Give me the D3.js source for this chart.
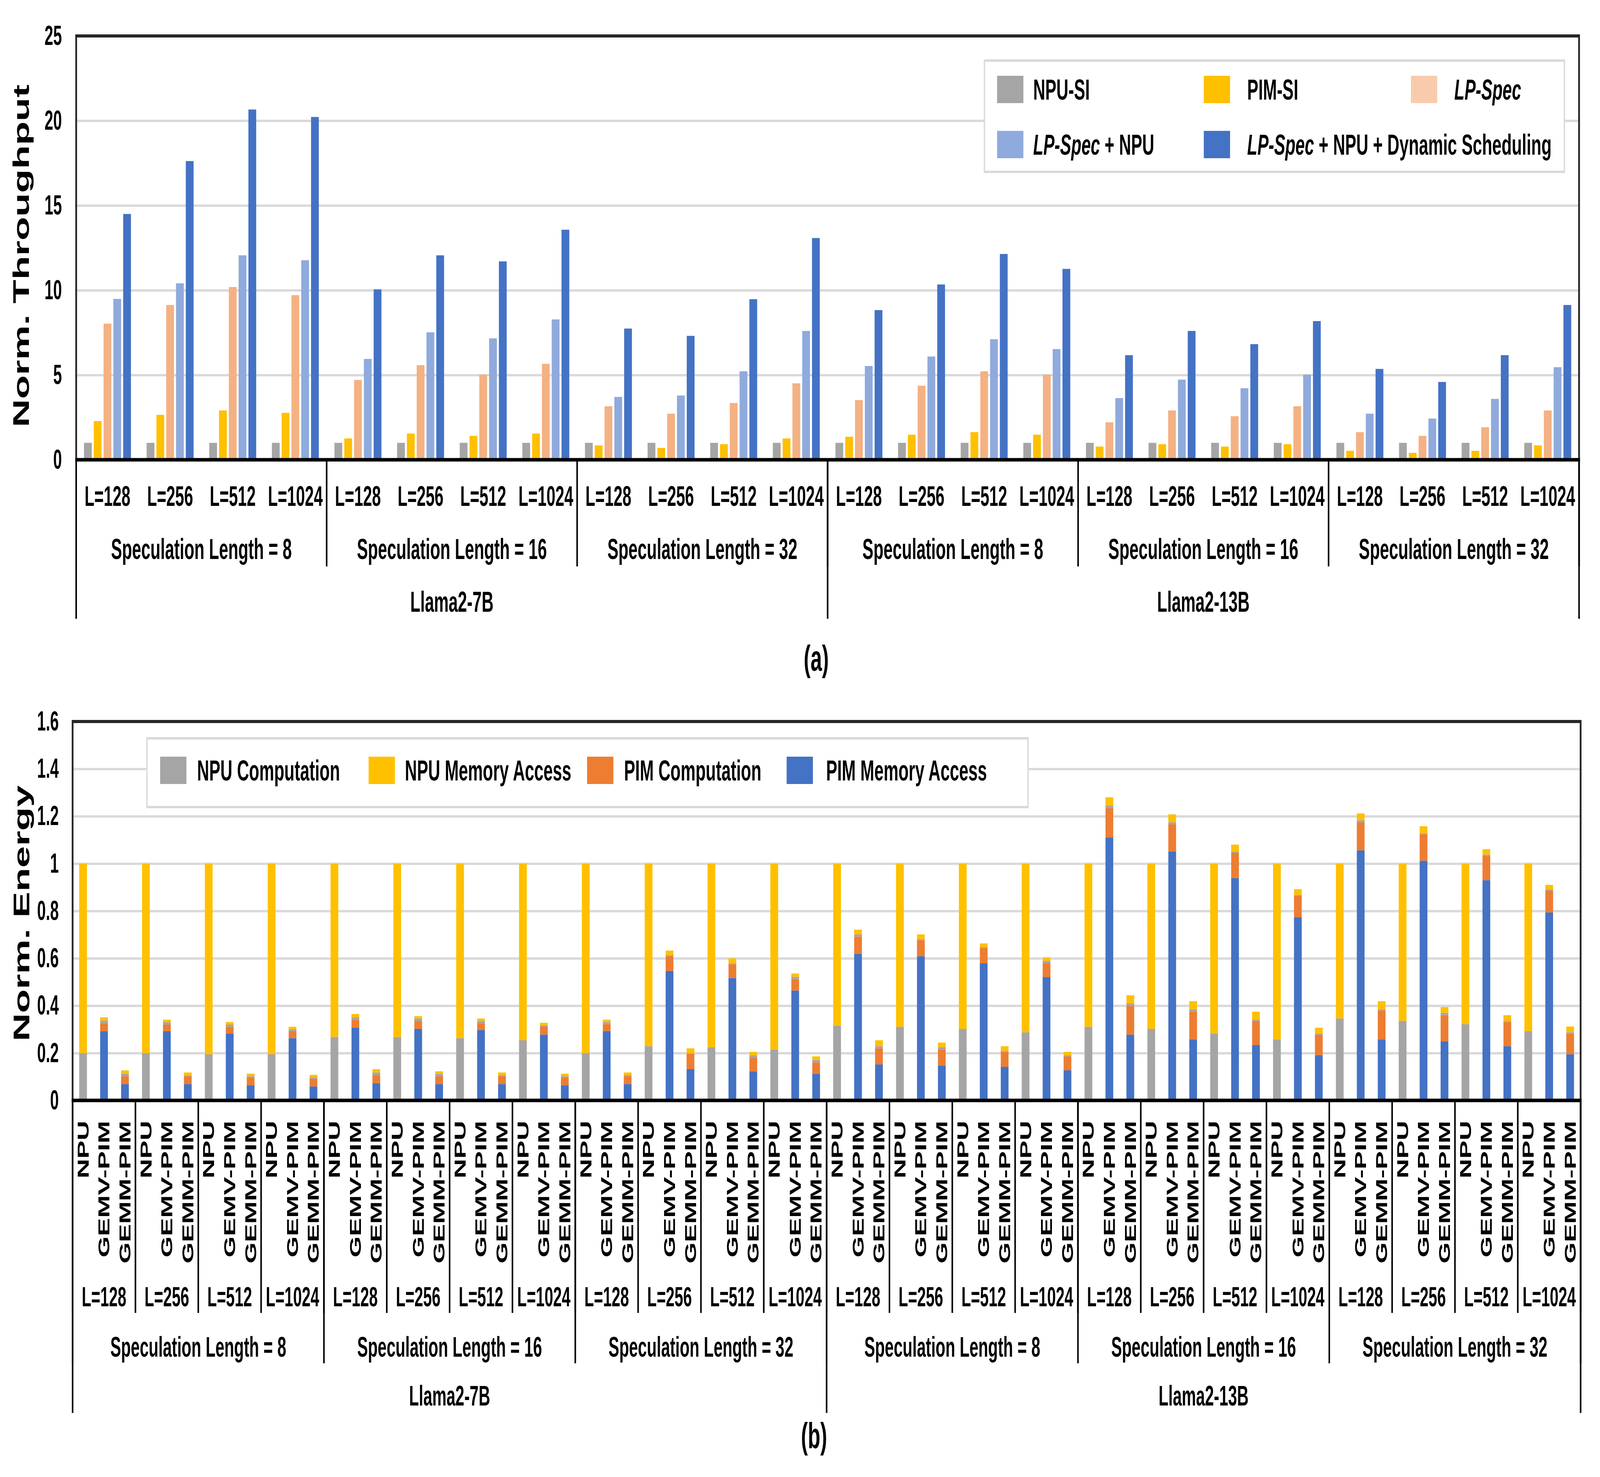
<!DOCTYPE html>
<html>
<head>
<meta charset="utf-8">
<script src="https://cdn.jsdelivr.net/npm/d3@7"></script>
<style>
	html, body { margin: 0; padding: 0; background: #fff; overflow: hidden; }
	#fig { display: block; width: 100vw; height: 100vh; }
	text { font-family: "Liberation Sans", Arial, sans-serif; font-weight: bold; fill: #000; }
</style>
</head>
<body>
<svg id="fig" viewBox="0 0 7184 3781" preserveAspectRatio="none"></svg>
<script>

// categories
var models = ["Llama2-7B", "Llama2-13B"]
var specLens = ["Speculation Length = 8", "Speculation Length = 16", "Speculation Length = 32"]
var seqLens = ["L=128", "L=256", "L=512", "L=1024"]
var designs = ["NPU", "GEMV-PIM", "GEMM-PIM"]

// (a) normalized throughput, one value per (model, spec length, L)
var npuSI     = [1,1,1,1, 1,1,1,1, 1,1,1,1, 1,1,1,1, 1,1,1,1, 1,1,1,1]
var pimSI     = [2.28,2.65,2.91,2.77, 1.26,1.55,1.41,1.55, 0.85,0.70,0.92,1.26, 1.36,1.48,1.63,1.48, 0.78,0.92,0.78,0.92, 0.53,0.41,0.53,0.85]
var lpSpec    = [8.03,9.13,10.19,9.71, 4.71,5.58,5.02,5.66, 3.16,2.72,3.35,4.51, 3.52,4.37,5.22,5.02, 2.21,2.91,2.57,3.16, 1.63,1.41,1.92,2.91]
var lpSpecNpu = [9.49,10.41,12.06,11.77, 5.95,7.52,7.16,8.28, 3.71,3.79,5.22,7.60, 5.53,6.09,7.11,6.53, 3.64,4.73,4.22,5.02, 2.72,2.43,3.59,5.46]
var lpSpecDyn = [14.5,17.62,20.66,20.22, 10.05,12.06,11.70,13.57, 7.74,7.31,9.47,13.08, 8.83,10.34,12.14,11.26, 6.17,7.60,6.82,8.18, 5.36,4.59,6.17,9.13]
var throughputTicks = [0, 5, 10, 15, 20, 25]

// (b) normalized energy, per config: NPU, GEMV-PIM, GEMM-PIM
var pimMemAccess = [
	0,.292,.069, 0,.292,.069, 0,.283,.064, 0,.263,.059,
	0,.307,.073, 0,.302,.069, 0,.297,.069, 0,.278,.064,
	0,.292,.069, 0,.546,.132, 0,.517,.123, 0,.464,.113,
	0,.619,.152, 0,.609,.147, 0,.579,.142, 0,.521,.127,
	0,1.110,.278, 0,1.051,.258, 0,.939,.234, 0,.774,.191,
	0,1.056,.258, 0,1.012,.249, 0,.930,.229, 0,.794,.195]
var pimComputation = [
	0,.034,.033, 0,.028,.033, 0,.028,.033, 0,.029,.033,
	0,.034,.034, 0,.034,.033, 0,.029,.033, 0,.034,.033,
	0,.030,.033, 0,.063,.065, 0,.058,.058, 0,.048,.048,
	0,.073,.068, 0,.068,.068, 0,.064,.063, 0,.058,.059,
	0,.125,.121, 0,.116,.117, 0,.107,.102, 0,.089,.087,
	0,.118,.122, 0,.112,.111, 0,.103,.102, 0,.092,.088]
var npuComputation = [
	.200,.011,.011, .200,.010,.004, .195,.009,.005, .195,.009,.005,
	.268,.010,.011, .268,.010,.011, .263,.010,.005, .254,.005,.005,
	.200,.009,.005, .229,.005,.003, .225,.005,.010, .215,.010,.010,
	.316,.009,.009, .311,.005,.010, .302,.005,.005, .288,.010,.005,
	.311,.010,.010, .302,.008,.010, .283,.005,.005, .258,.005,.005,
	.346,.009,.005, .336,.005,.010, .322,.005,.005, .292,.005,.005]
var npuMemAccess = [
	.800,.014,.014, .800,.011,.012, .805,.011,.011, .805,.010,.011,
	.732,.014,.014, .732,.010,.010, .737,.010,.011, .746,.011,.011,
	.800,.010,.011, .771,.019,.020, .775,.020,.014, .785,.014,.015,
	.684,.020,.025, .689,.019,.019, .698,.015,.019, .712,.015,.014,
	.689,.035,.035, .698,.033,.034, .717,.029,.034, .742,.024,.024,
	.654,.029,.034, .664,.029,.024, .678,.023,.024, .708,.019,.024]
var energyTicks = [0, 0.2, 0.4, 0.6, 0.8, 1, 1.2, 1.4, 1.6]


var svg = d3.select("#fig")

// config list (model x spec length x L)
var configs = []
models.forEach(function(m){
	specLens.forEach(function(s){
		seqLens.forEach(function(l){
			configs.push({model: m, spec: s, len: l, key: m + "|" + s + "|" + l})
		})
	})
})

function categoryAxis(g, x, yZero, levels, x0, x1) {
	// levels: [{every, bottom, labelY, label}]
	g.append("line").attr("x1", x0 - 4).attr("x2", x1 + 4).attr("y1", yZero).attr("y2", yZero)
		.attr("stroke", "#000").attr("stroke-width", 9)

	var step = x.step()
	levels.forEach(function(lv){
		for (var i = 0; i <= configs.length; i += lv.every) {
			var bx = x0 + i * step
			if (lv.line) g.append("line").attr("x1", bx).attr("x2", bx).attr("y1", yZero).attr("y2", lv.bottom)
				.attr("stroke", "#000").attr("stroke-width", 7)
			if (i < configs.length) g.append("text")
				.attr("x", bx + step * lv.every / 2)
				.attr("y", lv.labelY)
				.attr("text-anchor", "middle")
				.style("font-size", lv.size + "px")
				.text(lv.label(configs[i]))
		}
	})
}

function legend(g, box, items) {
	g.append("rect").attr("x", box[0]).attr("y", box[1]).attr("width", box[2]).attr("height", box[3])
		.attr("fill", "#fff").attr("stroke", "#d9d9d9").attr("stroke-width", 6)
	items.forEach(function(it){
		g.append("rect").attr("x", it.sx).attr("y", it.cy - 35).attr("width", 118).attr("height", 70).attr("fill", it.color)
		var t = g.append("text").attr("x", it.tx).attr("y", it.cy).attr("dominant-baseline", "central").style("font-size", "75px")
		it.parts.forEach(function(p){
			t.append("tspan").style("font-style", p[1] ? "italic" : "normal").text(p[0])
		})
	})
}


// ---------- (a) throughput ----------
var A = {x0: 342, x1: 7090, y0: 92, yZero: 1177}
var gA = svg.append("g")

var xA = d3.scaleBand().domain(configs.map(function(d){ return d.key })).range([A.x0, A.x1])
var seriesA = [
	{name: "NPU-SI", values: npuSI, color: "#a5a5a5"},
	{name: "PIM-SI", values: pimSI, color: "#ffc000"},
	{name: "LP-Spec", values: lpSpec, color: "#f4b183"},
	{name: "LP-Spec + NPU", values: lpSpecNpu, color: "#8faadc"},
	{name: "LP-Spec + NPU + Dynamic Scheduling", values: lpSpecDyn, color: "#4472c4"}
]
var xAin = d3.scaleBand().domain(seriesA.map(function(s){ return s.name }))
	.range([0, xA.bandwidth()]).paddingInner(0.205).paddingOuter(0.8)
var yA = d3.scaleLinear().domain([0, 25]).range([A.yZero, A.y0])

gA.append("g").attr("transform", "translate(" + A.x0 + ",0)")
	.call(d3.axisLeft(yA).tickValues([5, 10, 15, 20]).tickSize(-(A.x1 - A.x0)).tickFormat(""))
	.call(function(g){ g.select(".domain").remove() })
	.selectAll("line").attr("stroke", "#d9d9d9").attr("stroke-width", 6)

gA.append("g").attr("transform", "translate(" + A.x0 + ",0)")
	.call(d3.axisLeft(yA).tickValues(throughputTicks).tickSize(0).tickPadding(64))
	.call(function(g){ g.select(".domain").remove() })
	.selectAll("text").style("font-size", "70px").style("font-family", "Liberation Sans, Arial, sans-serif")

legend(gA, [4420, 155, 2604, 285], [
	{sx: 4477, tx: 4639, cy: 229, color: "#a5a5a5", parts: [["NPU-SI", 0]]},
	{sx: 5405, tx: 5600, cy: 229, color: "#ffc000", parts: [["PIM-SI", 0]]},
	{sx: 6335, tx: 6530, cy: 229, color: "#f8cbad", parts: [["LP-Spec", 1]]},
	{sx: 4477, tx: 4639, cy: 370, color: "#8faadc", parts: [["LP-Spec", 1], [" + NPU", 0]]},
	{sx: 5405, tx: 5600, cy: 370, color: "#4472c4", parts: [["LP-Spec", 1], [" + NPU + Dynamic Scheduling", 0]]}
])

seriesA.forEach(function(s){
	gA.append("g").selectAll("rect")
		.data(configs)
		.enter().append("rect")
		.attr("x", function(d){ return xA(d.key) + xAin(s.name) })
		.attr("width", xAin.bandwidth())
		.attr("y", function(d, i){ return yA(s.values[i]) })
		.attr("height", function(d, i){ return A.yZero - yA(s.values[i]) })
		.attr("fill", s.color)
})

gA.append("path")
	.attr("d", "M" + A.x0 + "," + A.yZero + "V" + A.y0 + "H" + A.x1 + "V" + A.yZero)
	.attr("fill", "none").attr("stroke", "#262626").attr("stroke-width", 8)

categoryAxis(gA, xA, A.yZero, [
	{every: 1, line: false, labelY: 1295, size: 72, label: function(c){ return c.len }},
	{every: 4, line: true, bottom: 1450, labelY: 1431, size: 74, label: function(c){ return c.spec }},
	{every: 12, line: true, bottom: 1584, labelY: 1566, size: 74, label: function(c){ return c.model }}
], A.x0, A.x1)

gA.append("text").attr("transform", "translate(94,655) rotate(-90)")
	.attr("text-anchor", "middle").attr("dominant-baseline", "central")
	.style("font-size", "100px").text("Norm. Throughput")

svg.append("text").attr("x", 3665).attr("y", 1717).attr("text-anchor", "middle")
	.style("font-size", "92px").text("(a)")


// ---------- (b) energy ----------
var B = {x0: 326, x1: 7097, y0: 1847, yZero: 2817}
var gB = svg.append("g")

var bars = []
configs.forEach(function(c, ci){
	designs.forEach(function(dsg, di){
		var i = ci * 3 + di
		bars.push({key: c.key + "|" + dsg, design: dsg,
			pimMem: pimMemAccess[i], pimComp: pimComputation[i],
			npuComp: npuComputation[i], npuMem: npuMemAccess[i]})
	})
})

var xB = d3.scaleBand().domain(bars.map(function(d){ return d.key })).range([B.x0, B.x1])
	.paddingInner(0.63).paddingOuter(0.315)
var xBcfg = d3.scaleBand().domain(configs.map(function(d){ return d.key })).range([B.x0, B.x1])
var yB = d3.scaleLinear().domain([0, 1.6]).range([B.yZero, B.y0])

var keysB = ["pimMem", "pimComp", "npuComp", "npuMem"]
var colorB = {pimMem: "#4472c4", pimComp: "#ed7d31", npuComp: "#a5a5a5", npuMem: "#ffc000"}
var stackB = d3.stack().keys(keysB)(bars)

gB.append("g").attr("transform", "translate(" + B.x0 + ",0)")
	.call(d3.axisLeft(yB).tickValues([0.2, 0.4, 0.6, 0.8, 1, 1.2, 1.4]).tickSize(-(B.x1 - B.x0)).tickFormat(""))
	.call(function(g){ g.select(".domain").remove() })
	.selectAll("line").attr("stroke", "#d9d9d9").attr("stroke-width", 6)

gB.append("g").attr("transform", "translate(" + B.x0 + ",0)")
	.call(d3.axisLeft(yB).tickValues(energyTicks).tickSize(0).tickPadding(62).tickFormat(d3.format("~g")))
	.call(function(g){ g.select(".domain").remove() })
	.selectAll("text").style("font-size", "70px").style("font-family", "Liberation Sans, Arial, sans-serif")

legend(gB, [660, 1890, 3956, 176], [
	{sx: 719, tx: 885, cy: 1972, color: "#a5a5a5", parts: [["NPU Computation", 0]]},
	{sx: 1655, tx: 1818, cy: 1972, color: "#ffc000", parts: [["NPU Memory Access", 0]]},
	{sx: 2636, tx: 2802, cy: 1972, color: "#ed7d31", parts: [["PIM Computation", 0]]},
	{sx: 3532, tx: 3709, cy: 1972, color: "#4472c4", parts: [["PIM Memory Access", 0]]}
])

gB.selectAll(".layer")
	.data(stackB)
	.enter().append("g")
	.attr("class", "layer")
	.attr("fill", function(d){ return colorB[d.key] })
	.selectAll("rect")
	.data(function(d){ return d })
	.enter().append("rect")
	.attr("x", function(d){ return xB(d.data.key) })
	.attr("width", xB.bandwidth())
	.attr("y", function(d){ return yB(d[1]) })
	.attr("height", function(d){ return yB(d[0]) - yB(d[1]) })

gB.append("path")
	.attr("d", "M" + B.x0 + "," + B.yZero + "V" + B.y0 + "H" + B.x1 + "V" + B.yZero)
	.attr("fill", "none").attr("stroke", "#262626").attr("stroke-width", 8)

categoryAxis(gB, xBcfg, B.yZero, [
	{every: 1, line: true, bottom: 3361, labelY: 3344, size: 70, label: function(c){ return c.len }},
	{every: 4, line: true, bottom: 3490, labelY: 3473, size: 72, label: function(c){ return c.spec }},
	{every: 12, line: true, bottom: 3617, labelY: 3598, size: 72, label: function(c){ return c.model }}
], B.x0, B.x1)

gB.append("g").selectAll("text")
	.data(bars)
	.enter().append("text")
	.attr("transform", function(d){ return "translate(" + (xB(d.key) + xB.bandwidth() / 2) + ",2869) rotate(-90)" })
	.attr("text-anchor", "end")
	.attr("dominant-baseline", "central")
	.style("font-size", "70px")
	.text(function(d){ return d.design })

gB.append("text").attr("transform", "translate(97,2338) rotate(-90)")
	.attr("text-anchor", "middle").attr("dominant-baseline", "central")
	.style("font-size", "100px").text("Norm. Energy")

svg.append("text").attr("x", 3655).attr("y", 3707).attr("text-anchor", "middle")
	.style("font-size", "92px").text("(b)")

</script>
</body>
</html>
